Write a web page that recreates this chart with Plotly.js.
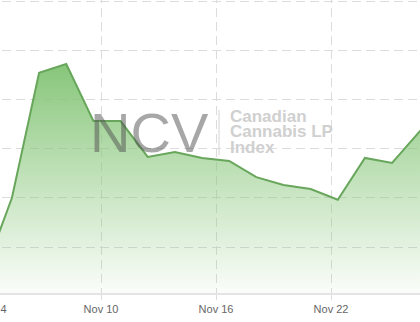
<!DOCTYPE html>
<html>
<head>
<meta charset="utf-8">
<script src="https://cdn.plot.ly/plotly-3.0.1.min.js"></script>
<style>
  html, body { margin: 0; padding: 0; width: 420px; height: 322px; overflow: hidden; background: #ffffff; }
  #chart { position: absolute; left: -40px; top: -20px; width: 500px; height: 342px; }
</style>
</head>
<body>
<div id="chart"></div>
<script>
// Data
const dates = ['2018-11-03 22:30','2018-11-05 08:30','2018-11-06 18:30','2018-11-08 04:30',
  '2018-11-09 14:30','2018-11-11 00:30','2018-11-12 10:30','2018-11-13 20:30',
  '2018-11-15 06:30','2018-11-16 16:30','2018-11-18 02:30','2018-11-19 12:30',
  '2018-11-20 22:30','2018-11-22 08:30','2018-11-23 18:30','2018-11-25 04:30',
  '2018-11-26 14:30','2018-11-28 00:30'];
const indexValues = [9.51, 11.00, 13.54, 13.72, 12.56, 12.56, 11.83, 11.93,
  11.81, 11.75, 11.42, 11.26, 11.18, 10.96, 11.81, 11.71, 12.34, 12.90];
const tickDates = ['2018-11-10','2018-11-16','2018-11-22','2018-11-28'];
const tickLabels = ['Nov 10','Nov 16','Nov 22','Nov 28'];
// first label is justified inward at the left edge (as in the source chart)
const edgeTickDate = '2018-11-04';
const edgeTickLabel = 'Nov 4';
const watermarkMain = 'NCV';
const watermarkLines = ['Canadian', 'Cannabis LP', 'Index'];

const yMin = 9.065, yMax = 15.427;

const trace = {
  x: dates,
  y: indexValues,
  type: 'scatter',
  mode: 'lines',
  line: { color: 'rgb(104,166,92)', width: 2 },
  fill: 'tozeroy',
  fillgradient: {
    type: 'vertical',
    start: yMin,
    stop: 13.72,
    colorscale: [[0, 'rgba(140,200,125,0.04)'], [1, 'rgba(135,198,122,1)']]
  },
  hoverinfo: 'skip'
};

const tickFont = { family: 'Liberation Sans, Arial, sans-serif', size: 11, color: '#666666' };
const wmFont = { family: 'Liberation Sans, Arial, sans-serif', size: 17, color: '#d0d0d0', weight: 700 };
const annotations = [
  { text: watermarkMain, xref: 'paper', yref: 'paper', x: 0.256, y: 0.514,
    xanchor: 'left', yanchor: 'middle', showarrow: false,
    font: { family: 'Liberation Sans, Arial, sans-serif', size: 56, weight: 400, color: 'rgba(80,80,80,0.5)' } },
  // edge tick label, pushed inside the plot like the source chart does
  { text: edgeTickLabel, xref: 'x', yref: 'paper', x: edgeTickDate, y: 0,
    xanchor: 'center', yanchor: 'top', xshift: 6, yshift: -8, showarrow: false, font: tickFont }
];
const lineY = [0.5653, 0.5158, 0.4663];
watermarkLines.forEach((t, i) => {
  annotations.push({ text: t, xref: 'paper', yref: 'paper', x: 0.536, y: lineY[i],
    xanchor: 'left', yanchor: 'middle', showarrow: false, font: wmFont });
});

const layout = {
  width: 500, height: 342,
  margin: { l: 0, r: 0, t: 0, b: 29 },
  paper_bgcolor: '#ffffff', plot_bgcolor: '#ffffff',
  showlegend: false,
  xaxis: {
    type: 'date',
    range: ['2018-11-02 15:27', '2018-11-28 17:31'],
    tickvals: tickDates, ticktext: tickLabels,
    showgrid: true, gridcolor: '#dcdcdc', griddash: '9px,5px', gridwidth: 1,
    showline: true, linecolor: '#e4e4e4', linewidth: 2,
    ticks: 'outside', ticklen: 5, tickcolor: '#dcdcdc', tickwidth: 1,
    tickfont: tickFont,
    zeroline: false, fixedrange: true
  },
  yaxis: {
    range: [yMin, yMax],
    tick0: 10, dtick: 1,
    showticklabels: false, ticks: '',
    showgrid: true, gridcolor: '#dcdcdc', griddash: '9px,5px', gridwidth: 1,
    zeroline: false, showline: false, fixedrange: true
  },
  annotations: annotations,
  shapes: [
    { type: 'line', xref: 'paper', yref: 'paper', x0: 0.518, x1: 0.518, y0: 0.441, y1: 0.585,
      line: { color: '#d4d4d4', width: 1 } }
  ]
};

Plotly.newPlot('chart', [trace], layout, { displayModeBar: false, staticPlot: true });
</script>
</body>
</html>
